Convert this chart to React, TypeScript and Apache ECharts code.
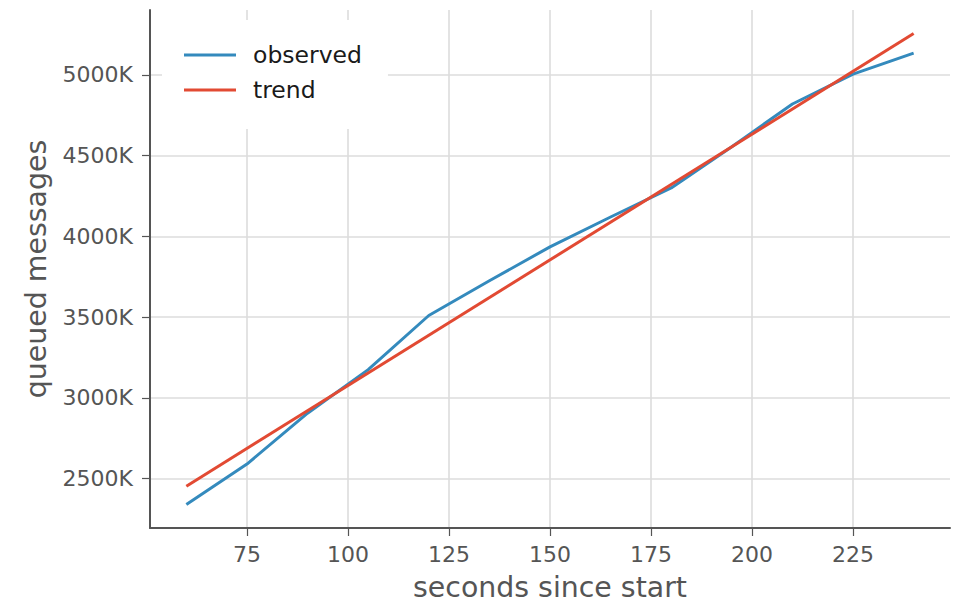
import React, { useEffect, useRef } from "react";
import * as echarts from "echarts";

const seconds = [60, 75, 90, 105, 120, 135, 150, 165, 180, 195, 210, 225, 240];
const observed = [2340, 2590, 2905, 3175, 3510, 3725, 3935, 4120, 4300, 4555, 4820, 5005, 5135];
const trendSeconds = [60, 240];
const trend = [2453, 5256];
const xTicks = [75, 100, 125, 150, 175, 200, 225];
const yTicks = [2500, 3000, 3500, 4000, 4500, 5000];

const FONT = "DejaVu Sans";
const GREY = "#555555";

export default function App() {
  const ref = useRef<HTMLDivElement>(null);
  useEffect(() => {
    document.body.style.margin = "0";
    const chart = echarts.init(ref.current!, null, { renderer: "svg" });
    chart.setOption({
      animation: false,
      backgroundColor: "#ffffff",
      textStyle: { fontFamily: FONT },
      grid: { left: 150, right: 4, top: 10, bottom: 76, containLabel: false, outerBoundsMode: "none" },
      legend: {
        left: 162,
        top: 20,
        orient: "vertical",
        backgroundColor: "#ffffff",
        padding: [23, 26, 27, 22],
        itemGap: 11,
        itemWidth: 52,
        itemHeight: 3,
        icon: "rect",
        textStyle: { fontFamily: FONT, fontSize: 23.5, color: "#1a1a1a", lineHeight: 24, padding: [0, 0, 0, 12] },
        data: ["observed", "trend"],
        z: 10,
      },
      xAxis: {
        type: "value",
        min: 51,
        max: 249,
        name: "seconds since start",
        nameLocation: "middle",
        nameGap: 45,
        nameTextStyle: { fontFamily: FONT, fontSize: 28.4, color: GREY },
        axisLine: { show: true, lineStyle: { color: GREY, width: 2 } },
        axisTick: { show: true, inside: false, length: 8, lineStyle: { color: GREY, width: 1.2 }, customValues: xTicks },
        axisLabel: { customValues: xTicks, margin: 15, fontFamily: FONT, fontSize: 22, color: GREY },
        splitLine: { show: true, lineStyle: { color: "#dcdcdc", width: 1.6 } },
      },
      yAxis: {
        type: "value",
        min: 2194,
        max: 5402,
        name: "queued messages",
        nameLocation: "middle",
        nameGap: 100,
        nameTextStyle: { fontFamily: FONT, fontSize: 28.4, color: GREY },
        axisLine: { show: true, lineStyle: { color: GREY, width: 2 } },
        axisTick: { show: true, inside: false, length: 8, lineStyle: { color: GREY, width: 1.2 }, customValues: yTicks },
        axisLabel: {
          customValues: yTicks,
          margin: 17,
          fontFamily: FONT,
          fontSize: 22,
          color: GREY,
          formatter: (v: number) => `${v}K`,
        },
        splitLine: { show: true, lineStyle: { color: "#dcdcdc", width: 1.6 } },
      },
      series: [
        {
          name: "observed",
          type: "line",
          data: seconds.map((s, i) => [s, observed[i]]),
          showSymbol: false,
          symbol: "none",
          lineStyle: { color: "#348ABD", width: 3 },
          itemStyle: { color: "#348ABD" },
          z: 2,
        },
        {
          name: "trend",
          type: "line",
          data: trendSeconds.map((s, i) => [s, trend[i]]),
          showSymbol: false,
          symbol: "none",
          lineStyle: { color: "#E24A33", width: 3 },
          itemStyle: { color: "#E24A33" },
          z: 3,
        },
      ],
    });
    return () => chart.dispose();
  }, []);
  return <div ref={ref} style={{ width: 954, height: 604 }} />;
}
